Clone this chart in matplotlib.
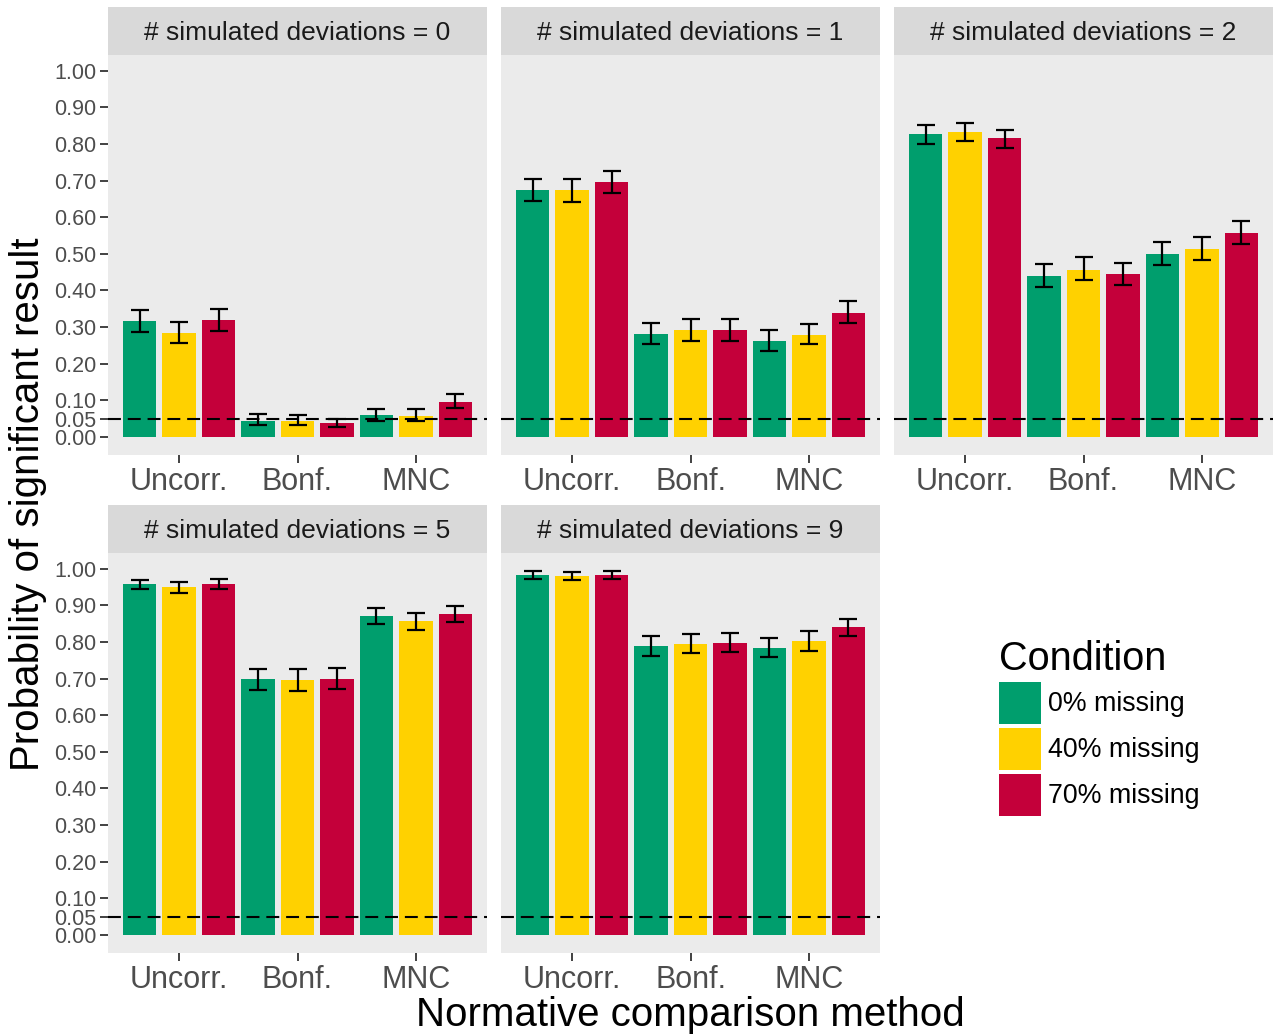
import numpy as np
import matplotlib
matplotlib.use('Agg')
import matplotlib.pyplot as plt
from matplotlib.patches import Patch

plt.rcParams['font.family'] = ['Liberation Sans', 'DejaVu Sans']

# Facets, categories and conditions
deviations = [0, 1, 2, 5, 9]
methods = ['Uncorr.', 'Bonf.', 'MNC']
conditions = ['0% missing', '40% missing', '70% missing']
colors = ['#009E6D', '#FFD100', '#C4003A']

# Probability of significant result, rows = condition, cols = method
p_dev0 = [[0.316, 0.044, 0.059], [0.284, 0.044, 0.058], [0.319, 0.039, 0.095]]
lo_dev0 = [[0.287, 0.033, 0.044], [0.257, 0.032, 0.043], [0.290, 0.028, 0.080]]
hi_dev0 = [[0.346, 0.061, 0.076], [0.313, 0.060, 0.075], [0.350, 0.048, 0.117]]

p_dev1 = [[0.675, 0.280, 0.261], [0.673, 0.291, 0.279], [0.695, 0.291, 0.339]]
lo_dev1 = [[0.645, 0.254, 0.235], [0.642, 0.263, 0.253], [0.666, 0.263, 0.311]]
hi_dev1 = [[0.705, 0.311, 0.291], [0.703, 0.321, 0.309], [0.725, 0.321, 0.370]]

p_dev2 = [[0.826, 0.440, 0.500], [0.832, 0.457, 0.513], [0.815, 0.444, 0.556]]
lo_dev2 = [[0.801, 0.409, 0.469], [0.808, 0.428, 0.482], [0.790, 0.414, 0.526]]
hi_dev2 = [[0.851, 0.473, 0.532], [0.856, 0.491, 0.545], [0.839, 0.476, 0.589]]

p_dev5 = [[0.958, 0.698, 0.871], [0.951, 0.696, 0.857], [0.959, 0.700, 0.877]]
lo_dev5 = [[0.944, 0.668, 0.849], [0.935, 0.665, 0.833], [0.945, 0.671, 0.854]]
hi_dev5 = [[0.970, 0.727, 0.892], [0.963, 0.726, 0.879], [0.971, 0.730, 0.897]]

p_dev9 = [[0.984, 0.788, 0.784], [0.981, 0.795, 0.802], [0.984, 0.798, 0.841]]
lo_dev9 = [[0.972, 0.761, 0.759], [0.969, 0.770, 0.776], [0.973, 0.772, 0.817]]
hi_dev9 = [[0.993, 0.815, 0.812], [0.990, 0.822, 0.829], [0.993, 0.824, 0.864]]

panels = [(p_dev0, lo_dev0, hi_dev0), (p_dev1, lo_dev1, hi_dev1),
          (p_dev2, lo_dev2, hi_dev2), (p_dev5, lo_dev5, hi_dev5),
          (p_dev9, lo_dev9, hi_dev9)]

yticks = [0.0, 0.05, 0.1, 0.2, 0.3, 0.4, 0.5, 0.6, 0.7, 0.8, 0.9, 1.0]

W, H = 1278, 1036
fig = plt.figure(figsize=(W / 100, H / 100), dpi=100)
fig.patch.set_facecolor('white')


def rect(x0, y0, x1, y1):
    return [x0 / W, 1 - y1 / H, (x1 - x0) / W, (y1 - y0) / H]


col_x = [(108, 487), (501, 880), (894, 1273)]
row_y = [(7, 55, 455), (505, 553, 953)]

x = np.arange(1, len(methods) + 1)
offsets = [-0.333, 0.0, 0.333]
bar_w = 0.28

for i, dev in enumerate(deviations):
    r, c = divmod(i, 3)
    x0, x1 = col_x[c]
    ys, yp, yb = row_y[r]

    # strip
    sax = fig.add_axes(rect(x0, ys, x1, yp))
    sax.set_facecolor('#D9D9D9')
    sax.set_xticks([])
    sax.set_yticks([])
    for s in sax.spines.values():
        s.set_visible(False)
    sax.text(0.5, 0.45, f'# simulated deviations = {dev}', ha='center', va='center',
             fontsize=19, color='#1A1A1A', transform=sax.transAxes)

    ax = fig.add_axes(rect(x0, yp, x1, yb))
    ax.set_facecolor('#EBEBEB')
    for s in ax.spines.values():
        s.set_visible(False)

    p, lo, hi = panels[i]
    for k in range(len(conditions)):
        vals = np.array(p[k])
        err = [vals - np.array(lo[k]), np.array(hi[k]) - vals]
        ax.bar(x + offsets[k], vals, width=bar_w, color=colors[k], zorder=2)
        ax.errorbar(x + offsets[k], vals, yerr=err, fmt='none', ecolor='black',
                    elinewidth=1.6, capsize=6.8, capthick=1.6, zorder=3)

    ax.axhline(0.05, color='black', linestyle=(0, (6.2, 3.3)), linewidth=1.5, zorder=4)

    ax.set_xlim(0.4, 3.6)
    ax.set_ylim(-0.0497, 1.043)
    ax.set_xticks(x)
    ax.set_xticklabels(methods, fontsize=22, color='#4D4D4D')
    ax.tick_params(axis='x', length=5.5, width=1.3, color='#333333', pad=3)
    if c == 0:
        ax.set_yticks(yticks)
        ax.set_yticklabels([f'{t:.2f}' for t in yticks], fontsize=15.5, color='#4D4D4D')
        ax.tick_params(axis='y', length=5.5, width=1.3, color='#333333', pad=3)
    else:
        ax.set_yticks([])

fig.text(28 / W, 1 - 504 / H, 'Probability of significant result', rotation=90,
         ha='center', va='center', fontsize=29, color='black')
fig.text(690 / W, 1 - 1015 / H, 'Normative comparison method',
         ha='center', va='center', fontsize=29, color='black')

handles = [Patch(facecolor=col, edgecolor='none') for col in colors]
leg = fig.legend(handles, conditions, title='Condition', loc='upper left',
                 bbox_to_anchor=(999 / W, 1 - 640 / H), frameon=False,
                 fontsize=19.3, title_fontsize=28.5, handlelength=1.565, handleheight=2.03,
                 handletextpad=0.28, labelspacing=0.15, borderaxespad=0,
                 borderpad=0)
leg._legend_box.align = 'left'

fig.savefig('out.png', dpi=100)
